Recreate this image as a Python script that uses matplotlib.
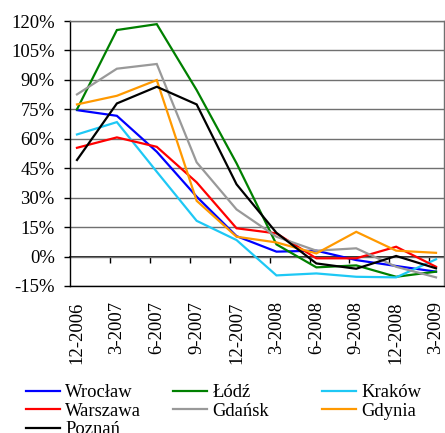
import matplotlib
matplotlib.use("Agg")
import matplotlib.pyplot as plt
from matplotlib.ticker import FuncFormatter, FixedLocator
import numpy as np

dates = ["12-2006", "3-2007", "6-2007", "9-2007", "12-2007", "3-2008",
         "6-2008", "9-2008", "12-2008", "3-2009"]

wroclaw  = [74.6, 71.7, 53.4, 30.5, 10.4, 2.5, 3.0, -1.8, -4.8, -7.7]
lodz     = [75.0, 115.4, 118.4, 84.8, 47.5, 6.2, -5.5, -4.5, -10.3, -7.7]
krakow   = [62.2, 68.5, 43.2, 18.2, 8.4, -9.6, -8.6, -10.3, -10.6, -1.4]
warszawa = [55.4, 60.7, 55.9, 37.8, 14.4, 11.8, -0.9, -0.9, 5.0, -5.2]
gdansk   = [82.6, 95.7, 98.1, 48.0, 24.0, 10.1, 3.0, 4.2, -5.2, -10.6]
gdynia   = [77.5, 81.9, 89.9, 28.4, 10.1, 7.2, 1.6, 12.6, 3.0, 1.9]
poznan   = [49.2, 78.0, 86.5, 77.5, 36.8, 12.1, -3.5, -6.2, 0.3, -6.0]

names = ["Wrocław", "Łódź", "Kraków", "Warszawa", "Gdańsk", "Gdynia", "Poznań"]
series = [wroclaw, lodz, krakow, warszawa, gdansk, gdynia, poznan]
colors = ["#0000FF", "#008000", "#1EC8F5", "#FF0000", "#999999", "#FF9900", "#000000"]

plt.rcParams['font.family'] = ['Liberation Serif', 'DejaVu Serif']
FS = 13.4

fig = plt.figure(figsize=(4.45, 4.33), dpi=100)
ax = fig.add_axes([70/445, 1-286/433, 374/445, 265/433])

x = np.arange(len(dates))
handles = {}
for name, vals, c in zip(names, series, colors):
    h, = ax.plot(x, vals, color=c, lw=1.6, solid_joinstyle='miter')
    handles[name] = h

ax.set_ylim(-15, 120)
ax.set_xlim(-0.175, 9.2)
ax.yaxis.set_major_locator(FixedLocator(np.arange(-15, 121, 15)))
ax.yaxis.set_major_formatter(FuncFormatter(lambda v, p: f"{int(round(v))}%"))
ax.grid(axis='y', color='#707070', lw=1)
ax.set_axisbelow(True)
ax.tick_params(axis='y', labelsize=FS, length=4, width=1, pad=7, direction='out')

ax.set_xticks(x)
ax.set_xticklabels(dates, rotation=90, fontsize=FS)
ax.tick_params(axis='x', length=0, pad=11)

for s in ['left', 'bottom']:
    ax.spines[s].set_color('black')
    ax.spines[s].set_linewidth(1)
for s in ['top', 'right']:
    ax.spines[s].set_color('#707070')
    ax.spines[s].set_linewidth(1)

# category axis crossing at 0%
sec = ax.secondary_xaxis(15/135)
sec.set_xticks(x[:-1] + 0.83)
sec.set_xticklabels([])
sec.tick_params(axis='x', length=4, width=1, direction='out', color='black')
sec.spines['bottom'].set_color('black')
sec.spines['bottom'].set_linewidth(1.2)

cols = [["Wrocław", "Warszawa", "Poznań"], ["Łódź", "Gdańsk"], ["Kraków", "Gdynia"]]
xs = [26/445, 173/445, 322/445]
for cx, col in zip(xs, cols):
    fig.legend([handles[n] for n in col], col, loc='upper left',
               bbox_to_anchor=(cx, 1-384/433), frameon=False,
               fontsize=FS, borderpad=0, borderaxespad=0,
               handlelength=1.8, handletextpad=0.3, labelspacing=0.08)

fig.savefig("out.png", dpi=100)
